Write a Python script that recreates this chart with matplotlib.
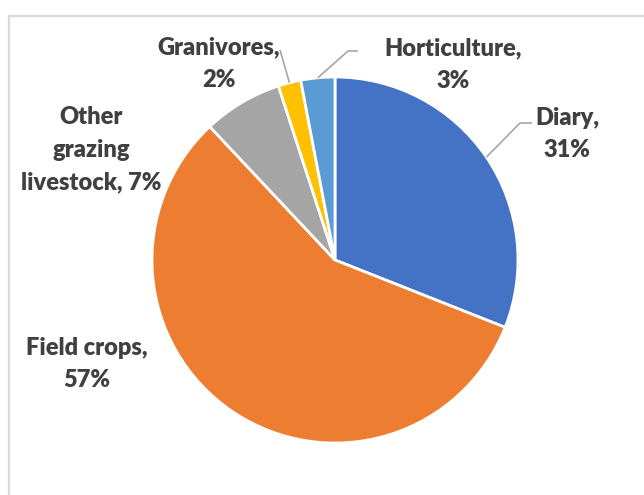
import numpy as np
import matplotlib
matplotlib.use("Agg")
import matplotlib.pyplot as plt
from matplotlib.patches import Rectangle

categories = ["Diary", "Field crops", "Other\ngrazing\nlivestock", "Granivores", "Horticulture"]
shares = [31, 57, 7, 2, 3]
colors = ["#4472C4", "#ED7D31", "#A5A5A5", "#FFC000", "#5B9BD5"]

W, H = 644, 495
fig = plt.figure(figsize=(W / 100, H / 100), dpi=100)
ax = fig.add_axes([0, 0, 1, 1])

cx, cy, R = 335, H - 260, 183
wedges, _ = ax.pie(shares, colors=colors, startangle=90, counterclock=False,
                   center=(cx, cy), radius=R,
                   wedgeprops=dict(edgecolor="white", linewidth=2))

ax.set_xlim(0, W)
ax.set_ylim(0, H)
ax.set_aspect("equal")
ax.axis("off")

# chart frame
ax.add_patch(Rectangle((9.5, -10), W + 20, H - 16 + 10, fill=False,
                       edgecolor="#d9d9d9", linewidth=1.6))

font = dict(family="Lato", weight="heavy", fontsize=17, color="#404040",
            ha="center", va="center", linespacing=1.6)

def label_text(i):
    name = categories[i]
    if "\n" in name:
        return f"{name}, {shares[i]}%"
    return f"{name},\n{shares[i]}%"

# label centres (x, y from top)
label_pos = {0: (567, 134), 1: (87, 364), 2: (91, 150), 3: (219, 64), 4: (453, 65)}
for i, (lx, ly) in label_pos.items():
    ax.text(lx, H - ly, label_text(i), **font)

# leader lines from wedge mid-angles
def mid_point(i):
    w = wedges[i]
    a = np.deg2rad((w.theta1 + w.theta2) / 2)
    return cx + R * np.cos(a), cy + R * np.sin(a)

leaders = {0: [(520, 123), (532, 123)], 3: [(280, 50)], 4: [(348, 51), (358, 51)]}
for i, pts in leaders.items():
    x0, y0 = mid_point(i)
    xs = [x0] + [p[0] for p in pts]
    ys = [y0] + [H - p[1] for p in pts]
    ax.plot(xs, ys, color="#a6a6a6", linewidth=1.2, solid_capstyle="butt")

fig.savefig("out.png", dpi=100, facecolor="white")
